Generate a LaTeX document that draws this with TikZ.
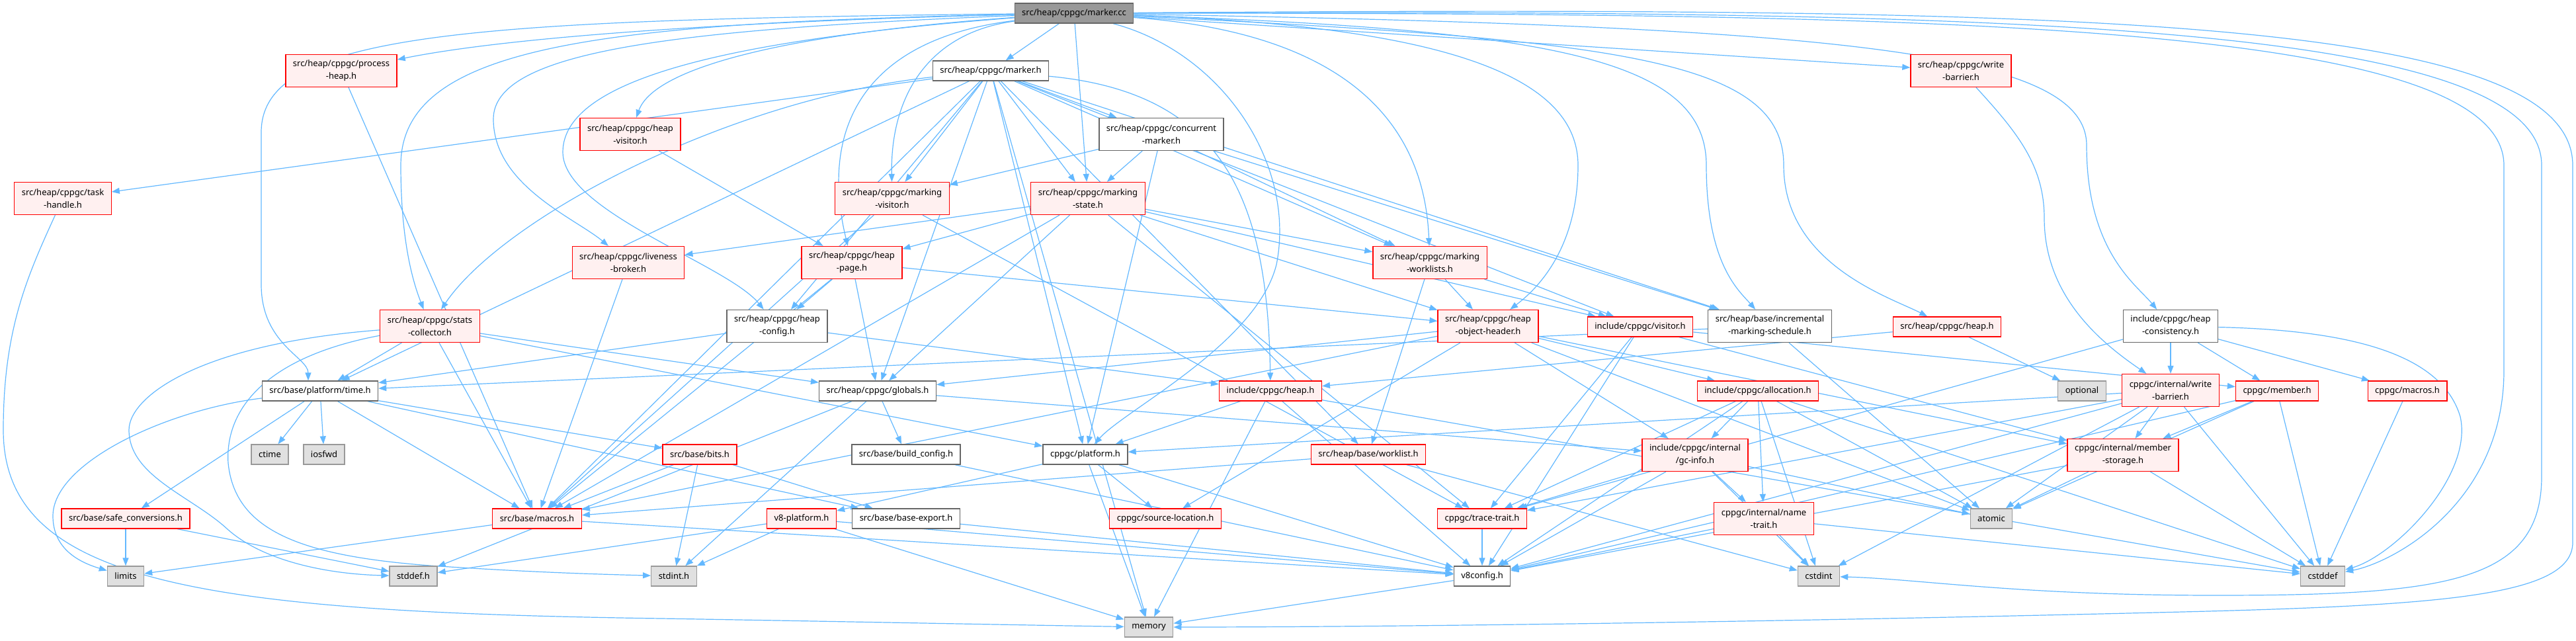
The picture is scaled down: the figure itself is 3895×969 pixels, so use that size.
\documentclass[tikz,border=0pt]{standalone}
\usepackage{fontspec}
\setsansfont{Noto Sans}
\usetikzlibrary{arrows.meta}
\definecolor{edgeblue}{HTML}{63B8FF}
\definecolor{redfill}{HTML}{FFF0F0}
\definecolor{redline}{HTML}{FF0000}
\definecolor{sysfill}{HTML}{E0E0E0}
\definecolor{sysline}{HTML}{999999}
\definecolor{mainfill}{HTML}{999999}
\definecolor{boxline}{HTML}{666666}
\pgfdeclarelayer{background}
\pgfsetlayers{background,main}
\tikzset{
  file/.style={draw, line width=1.3pt, inner xsep=11pt, inner ysep=2pt, minimum height=30pt, align=center, font=\sffamily\fontsize{13}{19}\selectfont},
  redfile/.style={file, draw=redline, fill=redfill},
  plainfile/.style={file, draw=boxline, fill=white},
  sysfile/.style={file, draw=sysline, fill=sysfill},
  mainfile/.style={file, draw=boxline, fill=mainfill},
  tall/.style={minimum height=49pt},
  inc/.style={draw=edgeblue, line width=1.2pt, -{Triangle[length=12pt,width=9pt]}},
}

\begin{document}
\begin{tikzpicture}[x=1pt, y=-1pt]
    \useasboundingbox (0,0) rectangle (3895,969);

    % top rows
    \node[mainfile] (markercc) at (1624,20) {src/heap/cppgc/marker.cc};
    \node[plainfile] (mh) at (1498,107) {src/heap/cppgc/marker.h};
    \node[redfile, tall] (procheap) at (516,107) {src/heap/cppgc/process\\-heap.h};
    \node[redfile, tall] (wbsrc) at (2965,107) {src/heap/cppgc/write\\-barrier.h};
    \node[redfile, tall] (hvisit) at (953,203) {src/heap/cppgc/heap\\-visitor.h};
    \node[plainfile, tall] (conc) at (1756,203) {src/heap/cppgc/concurrent\\-marker.h};
    \node[redfile, tall] (taskh) at (95,300) {src/heap/cppgc/task\\-handle.h};
    \node[redfile, tall] (mvis) at (1349,300) {src/heap/cppgc/marking\\-visitor.h};
    \node[redfile, tall] (mstate) at (1645,300) {src/heap/cppgc/marking\\-state.h};
    \node[redfile, tall] (live) at (950,397) {src/heap/cppgc/liveness\\-broker.h};
    \node[redfile, tall] (hpage) at (1288,397) {src/heap/cppgc/heap\\-page.h};
    \node[redfile, tall] (mwl) at (2162,397) {src/heap/cppgc/marking\\-worklists.h};

    % middle rows
    \node[redfile, tall] (stats) at (650,493) {src/heap/cppgc/stats\\-collector.h};
    \node[plainfile, tall] (hconf) at (1175,493) {src/heap/cppgc/heap\\-config.h};
    \node[redfile, tall] (hoh) at (2250,493) {src/heap/cppgc/heap\\-object-header.h};
    \node[redfile] (visitor) at (2480,494) {include/cppgc/visitor.h};
    \node[plainfile, tall] (ims) at (2676,493) {src/heap/base/incremental\\-marking-schedule.h};
    \node[redfile] (sheap) at (2944,494) {src/heap/cppgc/heap.h};
    \node[plainfile, tall] (hcons) at (3282,493) {include/cppgc/heap\\-consistency.h};
    \node[plainfile] (time) at (484,591) {src/base/platform/time.h};
    \node[plainfile] (globals) at (1327,591) {src/heap/cppgc/globals.h};
    \node[redfile] (iheap) at (1921,591) {include/cppgc/heap.h};
    \node[redfile] (alloc) at (2658,591) {include/cppgc/allocation.h};
    \node[sysfile] (optional) at (3148,591) {optional};
    \node[redfile, tall] (iwb) at (3282,590) {cppgc/internal/write\\-barrier.h};
    \node[redfile] (member) at (3443,591) {cppgc/member.h};
    \node[redfile] (cmacros) at (3640,591) {cppgc/macros.h};
    \node[sysfile] (ctime) at (408,687) {ctime};
    \node[sysfile] (iosfwd) at (490,687) {iosfwd};
    \node[redfile] (bits) at (1058,687) {src/base/bits.h};
    \node[plainfile] (buildcfg) at (1370,687) {src/base/build\_config.h};
    \node[plainfile] (platform) at (1641,687) {cppgc/platform.h};
    \node[redfile] (worklist) at (2069,687) {src/heap/base/worklist.h};
    \node[redfile, tall] (gcinfo) at (2563,688) {include/cppgc/internal\\/gc-info.h};
    \node[redfile, tall] (mstorage) at (3210,688) {cppgc/internal/member\\-storage.h};

    % bottom rows
    \node[redfile] (safeconv) at (190,784) {src/base/safe\_conversions.h};
    \node[redfile] (bmacros) at (812,784) {src/base/macros.h};
    \node[redfile] (v8plat) at (1212,784) {v8-platform.h};
    \node[plainfile] (bexport) at (1370,784) {src/base/base-export.h};
    \node[redfile] (srcloc) at (1762,784) {cppgc/source-location.h};
    \node[redfile] (trace) at (2241,784) {cppgc/trace-trait.h};
    \node[redfile, tall] (name) at (2667,784) {cppgc/internal/name\\-trait.h};
    \node[sysfile] (atomic) at (3011,784) {atomic};
    \node[sysfile] (limits) at (190,871) {limits};
    \node[sysfile] (stddef) at (625,871) {stddef.h};
    \node[sysfile] (stdint) at (1019,871) {stdint.h};
    \node[plainfile] (v8config) at (2241,871) {v8config.h};
    \node[sysfile] (cstdint) at (2750,871) {cstdint};
    \node[sysfile] (cstddef) at (3512,871) {cstddef};
    \node[sysfile] (memory) at (1737,948) {memory};

    \begin{pgfonlayer}{background}
    % includes of marker.cc
    \draw[inc] (markercc) -- (mh);
    \draw[inc] (markercc) .. controls (1200,30) and (800,50) .. (procheap);
    \draw[inc] (markercc) -- (wbsrc);
    \draw[inc] (markercc) .. controls (1200,50) and (990,100) .. (hvisit);
    \draw[inc] (markercc) .. controls (1000,45) and (746,80) .. (746,180) .. controls (746,280) and (870,330) .. (live);
    \draw[inc] (markercc) .. controls (900,35) and (606,70) .. (606,250) .. controls (606,380) and (630,440) .. (stats);
    \draw[inc] (markercc) .. controls (700,30) and (395,50) .. (395,200) -- (395,430) .. controls (395,520) and (466,540) .. ([xshift=-18pt]time.north);
    \draw[inc] (markercc) .. controls (1300,60) and (1240,200) .. (hpage);
    \draw[inc] (markercc) .. controls (1400,50) and (1346,150) .. (mvis);
    \draw[inc] (markercc) -- (mstate);
    \draw[inc] (markercc) .. controls (1100,60) and (851,120) .. (851,230) .. controls (851,320) and (1100,400) .. (hconf);
    \draw[inc] (markercc) .. controls (1900,40) and (2150,100) .. (mwl);
    \draw[inc] (markercc) .. controls (2200,40) and (2386,120) .. (2386,250) .. controls (2386,380) and (2320,440) .. (hoh);
    \draw[inc] (markercc) .. controls (2350,45) and (2580,90) .. (2580,250) .. controls (2580,400) and (2630,440) .. (ims);
    \draw[inc] (markercc) .. controls (2450,60) and (2697,90) .. (2697,250) .. controls (2697,400) and (2860,450) .. (sheap);
    \draw[inc] (markercc) .. controls (2800,40) and (3155,80) .. (3155,220) .. controls (3155,380) and (3230,430) .. (hcons);
    \draw[inc] (markercc) .. controls (1850,80) and (1960,250) .. (1930,400) .. controls (1900,520) and (1700,620) .. (platform);
    \draw[inc] (markercc) .. controls (2900,20) and (3786,30) .. (3786,250) -- (3786,560) .. controls (3786,760) and (3620,850) .. (cstddef);
    \draw[inc] (markercc) .. controls (3000,15) and (3843,30) .. (3843,250) -- (3843,720) .. controls (3843,880) and (3700,900) .. (3350,900) .. controls (3050,900) and (2900,875) .. (cstdint);
    \draw[inc] (markercc) .. controls (3100,10) and (3890,20) .. (3890,250) -- (3890,820) .. controls (3890,900) and (3700,915) .. (3300,925) .. controls (2700,940) and (2100,948) .. (memory);

    % includes of marker.h
    \draw[inc] (mh) -- (taskh);
    \draw[inc] (mh) -- (conc);
    \draw[inc] (mh) -- (mvis);
    \draw[inc] (mh) -- (mstate);
    \draw[inc] (mh) .. controls (1100,150) and (760,330) .. (stats);
    \draw[inc] (mh) -- (time);
    \draw[inc] (mh) -- (hconf);
    \draw[inc] (mh) -- (globals);
    \draw[inc] (mh) -- (platform);
    \draw[inc] (mh) -- (memory);
    \draw[inc] (mh) .. controls (1850,140) and (1917,300) .. (iheap);
    \draw[inc] (mh) -- (worklist);
    \draw[inc] (mh) -- (visitor);
    \draw[inc] (mh) -- (mwl);
    \draw[inc] (mh) -- (ims);
    \draw[inc] (mh) -- (bmacros);

    % includes of concurrent-marker.h
    \draw[inc] (conc) -- (mvis);
    \draw[inc] (conc) -- (mstate);
    \draw[inc] (conc) -- (platform);
    \draw[inc] (conc) -- (mwl);
    \draw[inc] (conc) -- (ims);

    % upper headers
    \draw[inc] (procheap) -- (bmacros);
    \draw[inc] (wbsrc) .. controls (3050,200) and (3091,250) .. (3091,330) .. controls (3091,450) and (3180,520) .. (iwb);
    \draw[inc] (taskh) .. controls (40,420) and (5,500) .. (5,650) .. controls (5,880) and (300,925) .. (1000,935) .. controls (1300,940) and (1550,945) .. (memory);
    \draw[inc] (hvisit) -- (hpage);
    \draw[inc] (mvis) -- (bmacros);
    \draw[inc] (mvis) -- (trace);
    \draw[inc] (mstate) -- (live);
    \draw[inc] (mstate) -- (hpage);
    \draw[inc] (mstate) -- (globals);
    \draw[inc] (mstate) -- (bmacros);
    \draw[inc] (mstate) -- (mwl);
    \draw[inc] (mstate) -- (hoh);
    \draw[inc] (mstate) -- (trace);
    \draw[inc] (mstate) -- (visitor);
    \draw[inc] (live) -- (bmacros);
    \draw[inc] (hpage) -- (hconf);
    \draw[inc] (hpage) -- (globals);
    \draw[inc] (hpage) -- (bmacros);
    \draw[inc] (hpage) -- (hoh);
    \draw[inc] (mwl) -- (worklist);
    \draw[inc] (mwl) -- (hoh);
    \draw[inc] (mwl) -- (visitor);

    % middle headers
    \draw[inc] (stats) -- (time);
    \draw[inc] (stats) -- (bmacros);
    \draw[inc] (stats) -- (globals);
    \draw[inc] (stats) -- (platform);
    \draw[inc] (stats) .. controls (300,520) and (195,600) .. (195,650) .. controls (195,720) and (290,750) .. (344,800) .. controls (400,850) and (500,868) .. (stddef);
    \draw[inc] (stats) .. controls (400,540) and (340,620) .. (345,700) .. controls (355,800) and (450,840) .. (650,855) .. controls (800,865) and (900,868) .. (stdint);
    \draw[inc] (hconf) -- (iheap);
    \draw[inc] (hconf) -- (time);
    \draw[inc] (hoh) -- (globals);
    \draw[inc] (hoh) -- (alloc);
    \draw[inc] (hoh) -- (gcinfo);
    \draw[inc] (hoh) -- (atomic);
    \draw[inc] (hoh) -- (srcloc);
    \draw[inc] (hoh) -- (bmacros);
    \draw[inc] (hoh) -- (mstorage);
    \draw[inc] (visitor) -- (trace);
    \draw[inc] (visitor) -- (member);
    \draw[inc] (visitor) -- (mstorage);
    \draw[inc] (visitor) -- (v8config);
    \draw[inc] (ims) -- (time);
    \draw[inc] (ims) -- (atomic);
    \draw[inc] (sheap) -- (optional);
    \draw[inc] (sheap) -- (iheap);
    \draw[inc] (hcons) -- (iwb);
    \draw[inc] (hcons) -- (member);
    \draw[inc] (hcons) -- (cmacros);
    \draw[inc] (hcons) -- (trace);
    \draw[inc] (hcons) .. controls (3600,500) and (3697,553) .. (3720,630) .. controls (3740,720) and (3620,840) .. (cstddef);

    % time.h and globals.h
    \draw[inc] (time) -- (ctime);
    \draw[inc] (time) -- (iosfwd);
    \draw[inc] (time) -- (safeconv);
    \draw[inc] (time) -- (bmacros);
    \draw[inc] (time) -- (bits);
    \draw[inc] (time) -- (bexport);
    \draw[inc] (time) .. controls (250,620) and (80,700) .. (80,780) .. controls (80,830) and (120,850) .. (limits);
    \draw[inc] (globals) -- (buildcfg);
    \draw[inc] (globals) -- (gcinfo);
    \draw[inc] (globals) -- (stdint);
    \draw[inc] (globals) -- (stddef);

    % public cppgc headers
    \draw[inc] (iheap) -- (platform);
    \draw[inc] (iheap) -- (memory);
    \draw[inc] (iheap) -- (v8config);
    \draw[inc] (iheap) -- (cstddef);
    \draw[inc] (alloc) -- (gcinfo);
    \draw[inc] (alloc) -- (name);
    \draw[inc] (alloc) -- (trace);
    \draw[inc] (alloc) -- (atomic);
    \draw[inc] (alloc) -- (cstdint);
    \draw[inc] (alloc) -- (cstddef);
    \draw[inc] (alloc) -- (v8config);
    \draw[inc] (iwb) -- (mstorage);
    \draw[inc] (iwb) -- (platform);
    \draw[inc] (iwb) -- (trace);
    \draw[inc] (iwb) -- (v8config);
    \draw[inc] (iwb) -- (cstddef);
    \draw[inc] (iwb) -- (cstdint);
    \draw[inc] (iwb) -- (atomic);
    \draw[inc] (member) -- (mstorage);
    \draw[inc] (member) -- (atomic);
    \draw[inc] (member) -- (cstddef);
    \draw[inc] (member) -- (v8config);
    \draw[inc] (cmacros) -- (cstddef);

    % lower headers
    \draw[inc] (bits) -- (bmacros);
    \draw[inc] (bits) -- (bexport);
    \draw[inc] (bits) -- (stdint);
    \draw[inc] (buildcfg) -- (v8config);
    \draw[inc] (platform) -- (v8plat);
    \draw[inc] (platform) -- (srcloc);
    \draw[inc] (platform) -- (memory);
    \draw[inc] (platform) -- (v8config);
    \draw[inc] (worklist) -- (bmacros);
    \draw[inc] (worklist) -- (cstdint);
    \draw[inc] (gcinfo) -- (trace);
    \draw[inc] (gcinfo) -- (name);
    \draw[inc] (gcinfo) -- (atomic);
    \draw[inc] (gcinfo) -- (cstdint);
    \draw[inc] (gcinfo) -- (v8config);
    \draw[inc] (mstorage) -- (atomic);
    \draw[inc] (mstorage) -- (v8config);
    \draw[inc] (mstorage) -- (cstddef);
    \draw[inc] (safeconv) -- (limits);
    \draw[inc] (safeconv) -- (stddef);
    \draw[inc] (bmacros) -- (limits);
    \draw[inc] (bmacros) -- (v8config);
    \draw[inc] (v8plat) -- (stdint);
    \draw[inc] (v8plat) -- (stddef);
    \draw[inc] (v8plat) -- (memory);
    \draw[inc] (v8plat) -- (v8config);
    \draw[inc] (bexport) -- (v8config);
    \draw[inc] (trace) -- (v8config);
    \draw[inc] (name) -- (v8config);
    \draw[inc] (name) -- (cstdint);
    \draw[inc] (name) -- (cstddef);
    \draw[inc] (v8config) -- (memory);
    \end{pgfonlayer}
\end{tikzpicture}
\end{document}
